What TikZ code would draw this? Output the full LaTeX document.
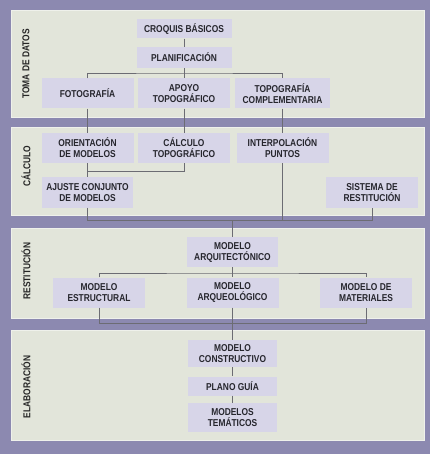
\documentclass[tikz,border=0pt]{standalone}
\usepackage{fontspec}
\newfontfamily\condfont[FakeStretch=0.84]{Liberation Sans}
\definecolor{framebg}{RGB}{140,137,176}
\definecolor{panelbg}{RGB}{226,229,218}
\definecolor{boxbg}{RGB}{215,213,232}
\definecolor{linkgray}{RGB}{108,108,115}
\definecolor{textgray}{RGB}{38,38,45}

\begin{document}
\begin{tikzpicture}[
          x=1pt, y=-1pt,
          panel/.style={
              fill=panelbg,
              draw=white!45!panelbg,
              line width=0.6pt,
              anchor=north west,
              inner sep=0pt,
              outer sep=0pt,
              minimum width=413pt
            },
          box/.style={
              fill=boxbg,
              minimum width=92pt,
              minimum height=30pt,
              inner sep=1pt,
              align=center,
              text=textgray,
              font=\condfont\bfseries\fontsize{10}{11}\selectfont
            },
          thinbox/.style={box, minimum height=19pt},
          tag/.style={rotate=90, text=black!85, font=\condfont\bfseries\fontsize{10}{11}\selectfont},
          link/.style={draw=linkgray, line width=0.8pt}
        ]
        \fill[framebg] (0,0) rectangle (430,454);

        \node[panel, minimum height=107pt] (datos) at (11,10) {};
        \node[panel, minimum height=88pt] (calculo) at (11,127) {};
        \node[panel, minimum height=90pt] (restit) at (11,228) {};
        \node[panel, minimum height=110pt] (elabor) at (11,330) {};

        \node[tag] (tagdatos) at (26,64) {TOMA DE DATOS};
        \node[tag] (tagcalc) at (26,166) {CÁLCULO};
        \node[tag] (tagrest) at (26,271) {RESTITUCIÓN};
        \node[tag] (tagelab) at (26,387) {ELABORACIÓN};

        \node[thinbox, minimum width=95pt] (croquis) at (184,29) {CROQUIS BÁSICOS};
        \node[thinbox, minimum width=95pt, minimum height=21pt] (planif) at (184,57.5) {PLANIFICACIÓN};
        \node[box] (foto) at (87.5,93.5) {FOTOGRAFÍA};
        \node[box] (apoyo) at (184,93.5) {APOYO\\TOPOGRÁFICO};
        \node[box, minimum width=95pt] (topo) at (282.5,93.5) {TOPOGRAFÍA\\COMPLEMENTARIA};

        \node[box] (orient) at (87.5,148) {ORIENTACIÓN\\DE MODELOS};
        \node[box] (calc) at (184,148) {CÁLCULO\\TOPOGRÁFICO};
        \node[box] (interp) at (282.5,148) {INTERPOLACIÓN\\PUNTOS};
        \node[box, minimum width=91pt] (ajuste) at (87.5,192.5) {AJUSTE CONJUNTO\\DE MODELOS};
        \node[box] (sistema) at (372,192.5) {SISTEMA DE\\RESTITUCIÓN};

        \node[box, minimum width=91pt] (arquit) at (232.5,252) {MODELO\\ARQUITECTÓNICO};
        \node[box] (estruct) at (99,292.5) {MODELO\\ESTRUCTURAL};
        \node[box] (arqueo) at (232.5,292.5) {MODELO\\ARQUEOLÓGICO};
        \node[box] (mater) at (366,292.5) {MODELO DE\\MATERIALES};

        \node[box, minimum width=89pt, minimum height=27pt] (constr) at (232.5,353.5) {MODELO\\CONSTRUCTIVO};
        \node[thinbox, minimum width=89pt] (plano) at (232.5,386) {PLANO GUÍA};
        \node[box, minimum width=89pt, minimum height=29pt] (tematic) at (232.5,417.5) {MODELOS\\TEMÁTICOS};

        \coordinate (fork1) at (184,73);
        \coordinate (merge2) at (232.5,220.5);
        \coordinate (fork3) at (232.5,273);

        \draw[link] (croquis) -- (planif);
        \draw[link] (planif) -- (apoyo);
        \draw[link] (foto.north) |- (fork1) -| (topo.north);

        \draw[link] (foto) -- (orient);
        \draw[link] (apoyo) -- (calc);
        \draw[link] (topo) -- (interp);

        \draw[link] (orient) -- (ajuste);
        \draw[link] (calc.south) -- ++(0,8) -| (orient.south);
        \draw[link] (ajuste.south) -- ++(0,13) -| (sistema.south);
        \draw[link] (interp.south) -- (interp.south |- merge2);
        \draw[link] (merge2) -- (arquit.north);

        \draw[link] (arquit) -- (arqueo);
        \draw[link] (estruct.north) |- (fork3) -| (mater.north);
        \draw[link] (estruct.south) -- ++(0,15.5) -| (mater.south);
        \draw[link] (arqueo) -- (constr);

        \draw[link] (constr) -- (plano);
        \draw[link] (plano) -- (tematic);
      \end{tikzpicture}
\end{document}
